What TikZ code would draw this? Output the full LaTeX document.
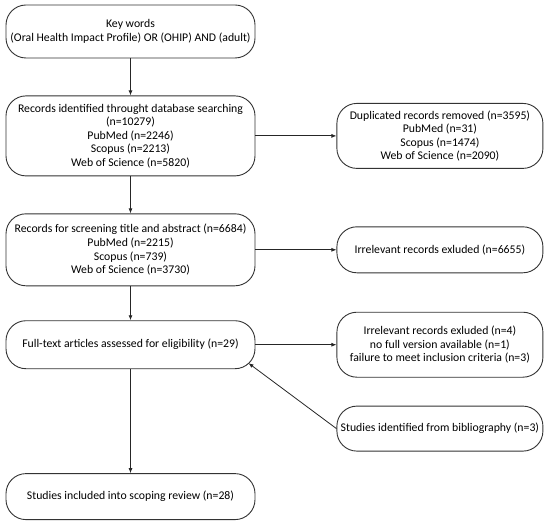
\documentclass[tikz,border=0pt]{standalone}
\usepackage{fontspec}
\setmainfont{Carlito}
\usepackage{tikz}
\usetikzlibrary{arrows.meta,positioning,calc}

\tikzset{
  stage/.style={draw=black!80, line width=0.9bp, rounded corners=20bp, align=center,
    minimum width=249bp, inner sep=2bp, font=\fontsize{11.8}{13.6}\selectfont},
  side/.style={stage, minimum width=206bp},
  flow/.style={draw=black!85, line width=0.8bp, -{Latex[length=5bp,width=4bp]}}
}

\begin{document}
\begin{tikzpicture}[x=1bp,y=1bp]
\useasboundingbox (0,0) rectangle (550,-522);
% main column
\node[stage, minimum height=53bp] (keys) at (130.5,-31.5)
  {Key words\\(Oral Health Impact Profile) OR (OHIP) AND (adult)};
\node[stage, minimum height=80bp, below=37bp of keys] (ident)
  {Records identified throught database searching\\(n=10279)\\PubMed (n=2246)\\Scopus (n=2213)\\Web of Science (n=5820)};
\node[stage, minimum height=72bp, below=37bp of ident] (screen)
  {Records for screening title and abstract (n=6684)\\PubMed (n=2215)\\Scopus (n=739)\\Web of Science (n=3730)};
\node[stage, minimum height=48bp, below=34bp of screen] (full)
  {Full-text articles assessed for eligibility (n=29)};
\node[stage, minimum height=46bp, below=104bp of full] (incl)
  {Studies included into scoping review (n=28)};
% side column
\node[side, minimum height=65bp, right=81bp of ident] (dupl)
  {Duplicated records removed (n=3595)\\PubMed (n=31)\\Scopus (n=1474)\\Web of Science (n=2090)};
\node[side, minimum height=46bp, right=81bp of screen] (irrel)
  {Irrelevant records exluded (n=6655)};
\node[side, minimum height=65bp, right=81bp of full] (excl)
  {Irrelevant records exluded (n=4)\\no full version available (n=1)\\failure to meet inclusion criteria (n=3)};
\node[side, minimum height=45bp, below=28bp of excl] (biblio)
  {Studies identified from bibliography (n=3)};

% corner point where the bibliography arrow meets the full-text box
\coordinate (fullcorner) at ($(full.south east)+(-7,6)$);

\draw[flow] (keys) -- (ident);
\draw[flow] (ident) -- (screen);
\draw[flow] (screen) -- (full);
\draw[flow] (full) -- (incl);
\draw[flow] (ident) -- (dupl);
\draw[flow] (screen) -- (irrel);
\draw[flow] (full) -- (excl);
\draw[flow] (biblio.west) -- (fullcorner);
\end{tikzpicture}
\end{document}
